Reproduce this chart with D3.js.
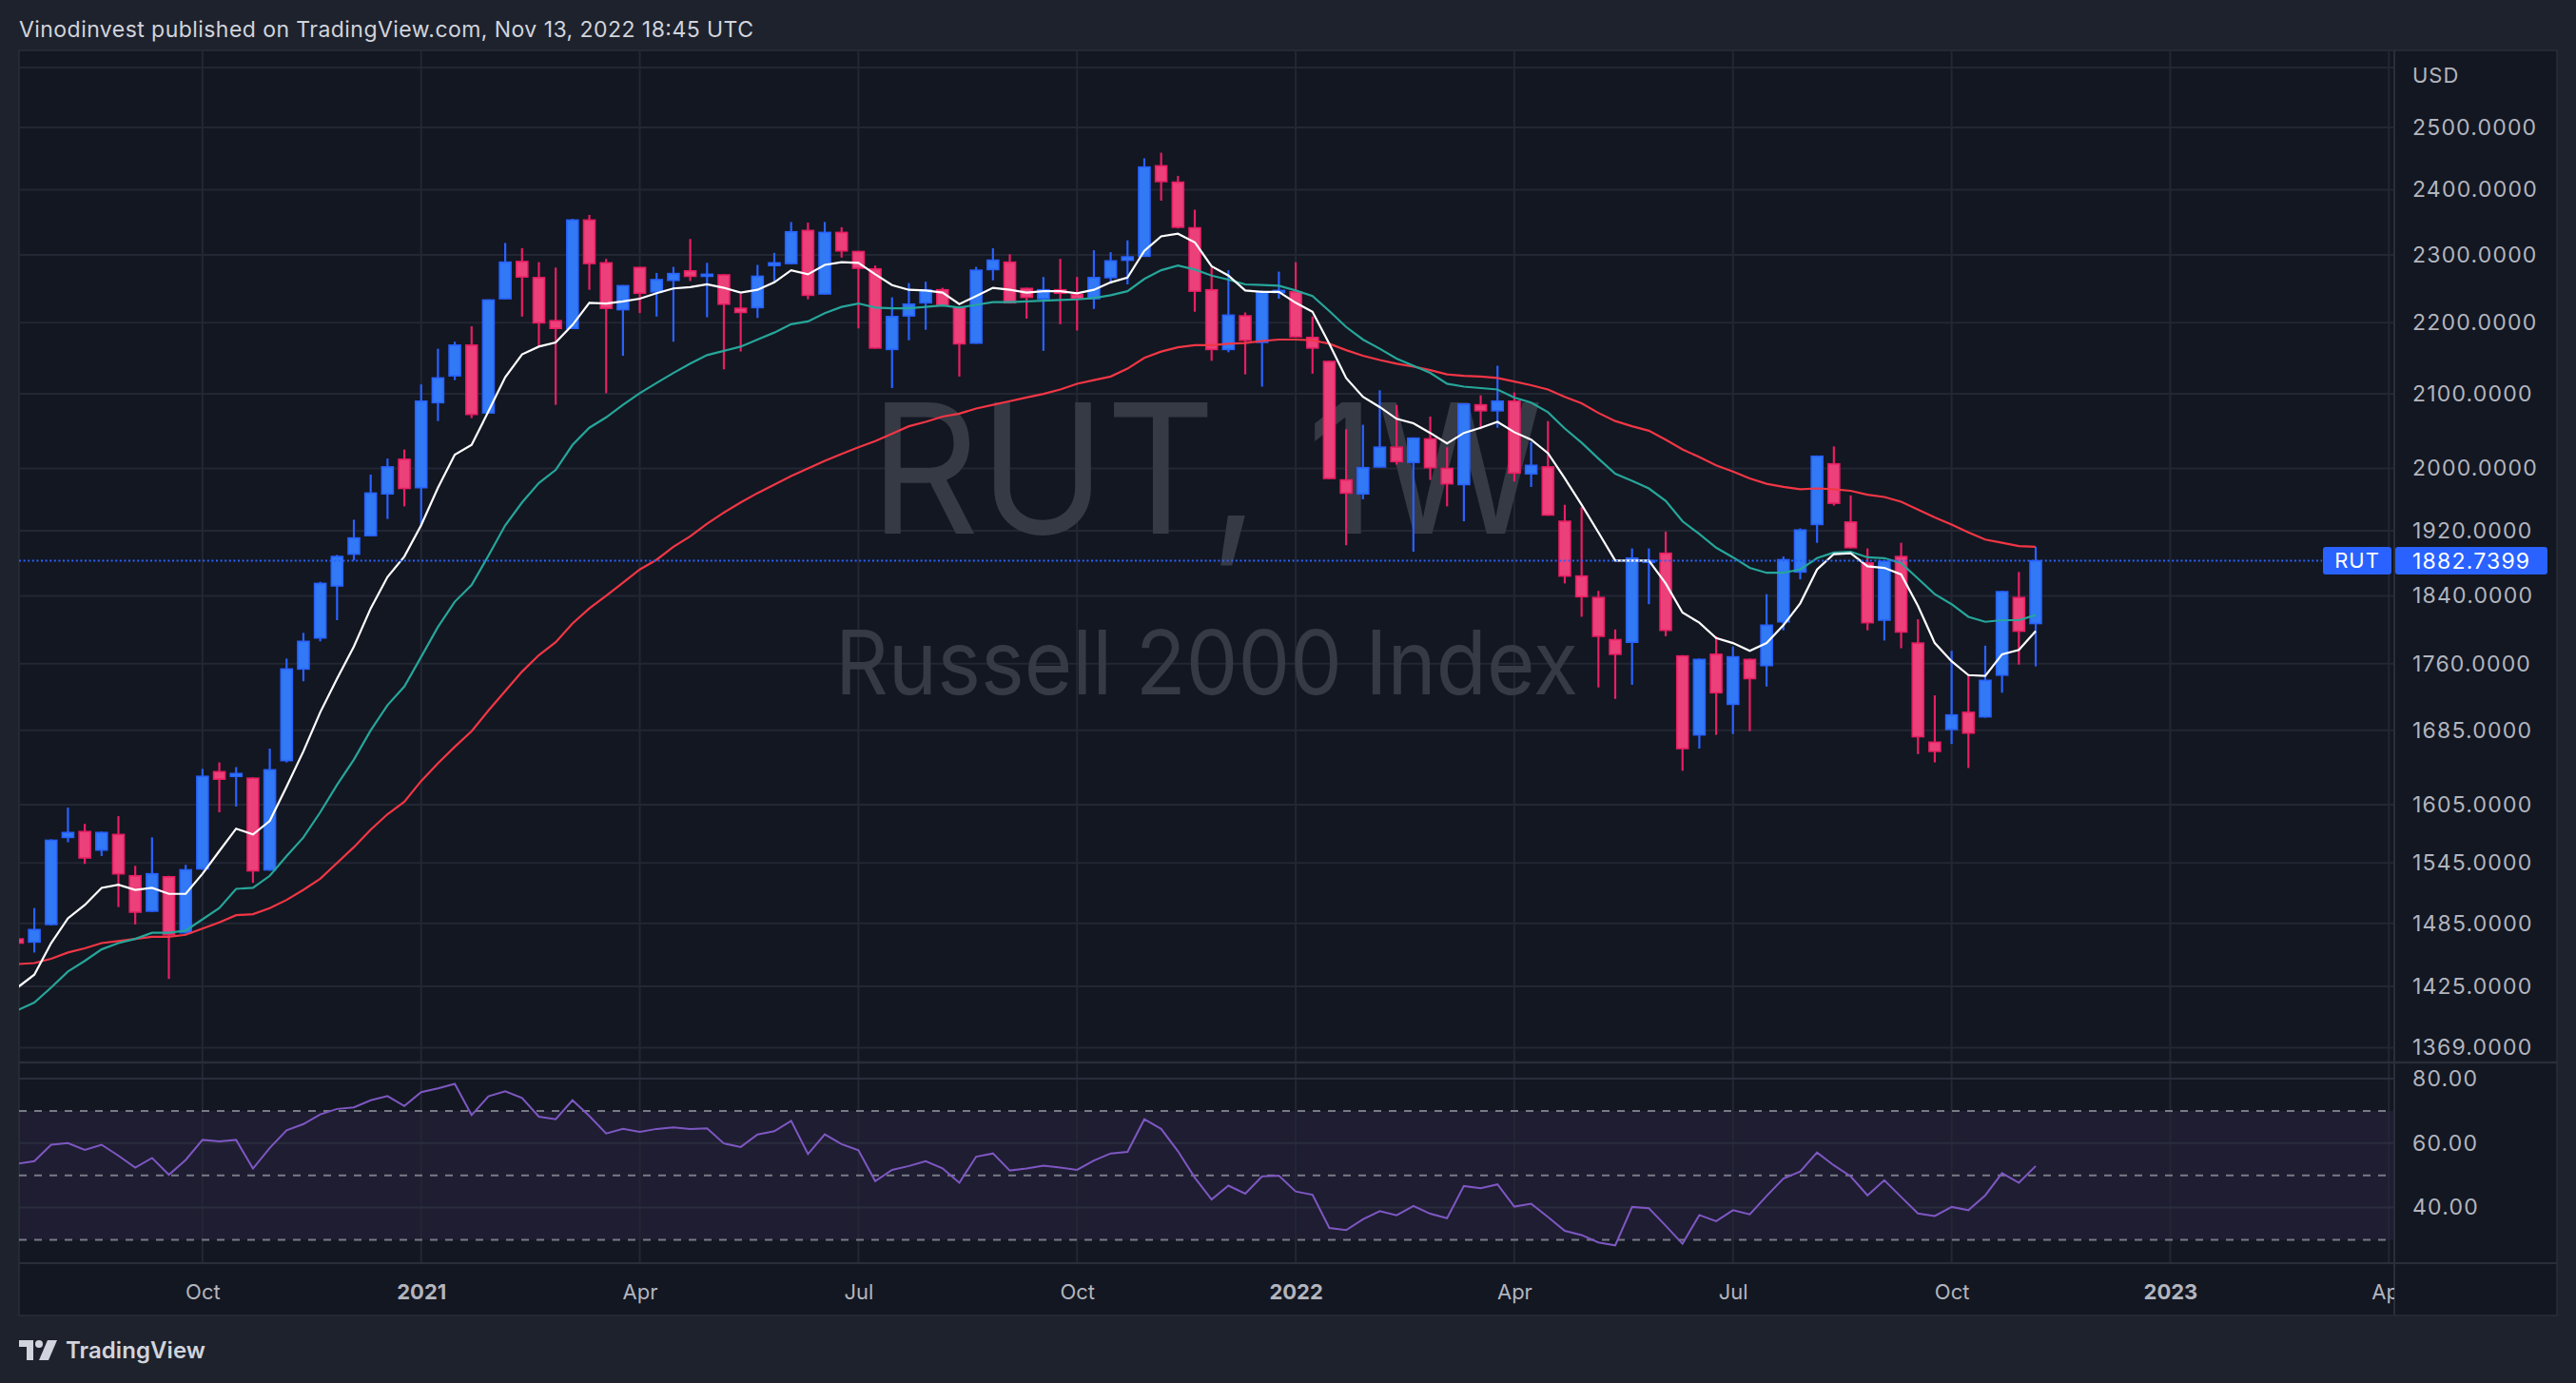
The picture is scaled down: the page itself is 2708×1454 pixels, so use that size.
<!DOCTYPE html>
<html><head><meta charset="utf-8">
<script src="https://cdn.jsdelivr.net/npm/d3@7"></script>
<style>html,body{margin:0;padding:0;background:#1e222d;overflow:hidden}text{font-family:Inter,"Noto Sans",sans-serif}</style>
</head><body><svg id="c" width="2708" height="1454"></svg>
<script>
// ---------------- DATA (weekly bars, RUT, from week of 2020-07-20) ----------------
const firstWeek = "2020-07-20";
const lastWeek = "2022-11-07";
const opens = [1470,1467,1484,1571,1577,1558,1574,1532,1497,1531,
1476,1539,1640,1635,1633,1538,1652,1754,1790,1852,
1891,1914,1967,2012,1975,2088,2125,2168,2074,2235,
2290,2266,2203,2192,2353,2288,2219,2281,2245,2262,
2276,2268,2270,2221,2222,2284,2287,2337,2242,2334,
2305,2279,2162,2210,2229,2248,2222,2171,2278,2289,
2250,2235,2248,2241,2235,2266,2292,2298,2438,2412,
2341,2248,2162,2210,2172,2244,2245,2179,2145,1985,
1967,2002,2028,2008,2039,2000,1979,2085,2077,2090,
1993,2002,1932,1864,1838,1788,1785,1881,1892,1769,
1680,1771,1714,1765,1758,1809,1869,1928,2006,1931,
1880,1811,1888,1784,1672,1686,1705,1700,1747,1838,
1807];
const highs = [1478,1500,1569,1602,1585,1577,1593,1542,1571,1532,
1543,1643,1650,1645,1634,1665,1766,1796,1857,1890,
1934,1992,2013,2025,2113,2163,2173,2195,2234,2318,
2310,2289,2281,2355,2361,2294,2255,2282,2273,2282,
2324,2288,2271,2242,2285,2303,2350,2349,2350,2342,
2306,2284,2237,2258,2260,2251,2223,2282,2310,2301,
2251,2267,2294,2267,2307,2304,2322,2450,2459,2422,
2369,2281,2277,2215,2247,2275,2289,2209,2146,2052,
2058,2105,2085,2041,2069,2028,2087,2098,2139,2102,
2035,2063,1953,1950,1846,1800,1898,1898,1919,1770,
1766,1792,1780,1766,1842,1888,1923,2017,2029,1965,
1898,1883,1905,1812,1724,1775,1748,1781,1846,1869,
1900];
const lows = [1458,1457,1483,1566,1544,1552,1501,1484,1496,1432,
1475,1538,1597,1603,1525,1537,1650,1740,1786,1811,
1883,1913,1935,1951,1927,2063,2119,2067,2073,2234,
2209,2166,2085,2191,2248,2101,2153,2214,2209,2173,
2261,2208,2134,2159,2207,2259,2286,2234,2241,2296,
2192,2163,2108,2175,2190,2224,2124,2170,2262,2228,
2206,2160,2198,2189,2220,2257,2256,2297,2383,2340,
2216,2146,2158,2127,2110,2235,2179,2128,1986,1902,
1960,2001,2005,1894,1985,1951,1932,2052,2054,1983,
1976,1939,1855,1815,1733,1720,1736,1830,1792,1641,
1665,1680,1681,1684,1734,1799,1860,1905,1952,1898,
1799,1787,1778,1659,1650,1670,1644,1699,1727,1759,
1757];
const closes = [1466,1479,1568,1576,1550,1576,1534,1496,1534,1474,
1538,1635,1632,1638,1537,1642,1754,1786,1855,1888,
1911,1968,2002,1974,2090,2122,2168,2072,2233,2289,
2267,2200,2192,2353,2287,2221,2254,2243,2263,2272,
2268,2271,2227,2215,2268,2288,2335,2240,2334,2306,
2280,2164,2209,2227,2248,2225,2170,2277,2292,2229,
2237,2248,2243,2235,2266,2291,2297,2436,2413,2342,
2246,2162,2211,2175,2244,2247,2180,2164,1987,1968,
2001,2028,2009,2040,2001,1980,2086,2077,2090,1994,
2004,1940,1864,1839,1792,1771,1886,1883,1799,1665,
1765,1727,1768,1743,1805,1884,1921,2016,1955,1899,
1808,1882,1797,1678,1662,1702,1682,1741,1845,1798,
1882.74];
// moving averages as drawn (white / teal / red)
const maFast = [1424,1436,1466,1490,1503,1520,1523,1518,1520,1514,
1514,1534,1557,1580,1574,1588,1624,1662,1705,1743,
1780,1825,1863,1888,1927,1975,2018,2031,2076,2123,
2155,2166,2172,2197,2229,2228,2231,2235,2243,2250,
2252,2256,2251,2244,2248,2259,2277,2271,2285,2289,
2288,2271,2255,2248,2247,2244,2227,2239,2251,2248,
2244,2246,2246,2243,2248,2259,2266,2306,2328,2332,
2319,2283,2269,2247,2245,2245,2229,2216,2170,2122,
2096,2082,2066,2060,2047,2033,2047,2054,2062,2048,
2038,2020,1987,1953,1918,1883,1883,1883,1855,1820,
1808,1790,1784,1775,1784,1805,1831,1872,1891,1892,
1876,1874,1866,1828,1784,1763,1747,1746,1771,1776,
1798];
const maMid = [1403,1410,1424,1439,1449,1460,1466,1470,1476,1476,
1478,1489,1500,1519,1520,1532,1552,1571,1597,1626,
1653,1685,1713,1734,1768,1803,1833,1853,1889,1927,
1956,1981,1998,2031,2054,2068,2085,2101,2115,2129,
2142,2154,2160,2166,2176,2186,2198,2202,2214,2223,
2228,2222,2221,2221,2223,2225,2222,2226,2230,2230,
2231,2232,2233,2234,2236,2240,2246,2264,2277,2284,
2278,2269,2263,2256,2255,2254,2247,2239,2217,2194,
2176,2163,2149,2139,2129,2114,2110,2108,2106,2095,
2088,2075,2053,2034,2013,1993,1984,1974,1958,1932,
1916,1899,1887,1874,1868,1868,1872,1886,1893,1894,
1887,1886,1880,1861,1842,1830,1815,1809,1811,1811,
1817];
const maSlow = [1446,1447,1451,1457,1461,1466,1468,1470,1472,1472,
1474,1480,1486,1493,1494,1500,1508,1518,1529,1545,
1561,1579,1595,1608,1630,1649,1667,1684,1707,1729,
1751,1770,1785,1807,1825,1840,1856,1872,1884,1900,
1913,1929,1943,1956,1968,1979,1990,2000,2010,2019,
2028,2036,2046,2056,2062,2069,2073,2080,2085,2090,
2095,2100,2106,2114,2119,2124,2135,2150,2159,2165,
2168,2168,2170,2171,2174,2176,2176,2175,2170,2161,
2153,2147,2142,2138,2133,2127,2125,2124,2122,2117,
2112,2106,2096,2087,2074,2063,2056,2050,2038,2025,
2015,2004,1996,1987,1980,1976,1973,1974,1973,1971,
1966,1963,1957,1947,1937,1928,1918,1909,1905,1901,
1900];
const rsi = [53.6,54.4,59.5,60.0,57.9,59.5,56.1,52.4,55.4,50.2,
54.8,61.0,60.5,61.0,52.1,58.5,64.0,65.9,68.9,70.6,
71.1,73.3,74.6,71.5,75.8,77.0,78.4,68.7,74.5,76.1,
74.0,68.2,67.4,73.3,68.4,63.0,64.4,63.5,64.4,64.9,
64.4,64.6,59.9,58.8,62.7,63.7,66.9,56.6,62.7,59.7,
57.8,48.2,51.7,52.9,54.4,52.2,47.7,55.8,56.8,51.5,
52.1,53.0,52.4,51.7,54.6,56.8,57.3,67.4,64.4,57.5,
49.3,42.5,46.8,44.3,49.7,49.9,45.0,44.0,33.7,33.0,
36.4,38.9,37.6,40.5,38.1,36.7,46.7,46.0,47.2,40.3,
41.2,37.1,32.8,31.5,29.2,28.3,40.2,39.8,34.4,28.8,
37.7,35.8,39.2,37.9,43.6,49.0,51.2,57.1,53.1,49.7,
43.8,48.5,43.3,38.2,37.4,40.2,39.2,43.8,50.7,47.7,
52.9];
const lastPrice = 1882.7399;
const priceTicks = [2500,2400,2300,2200,2100,2000,1920,1840,1760,1685,1605,1545,1485,1425,1369];
const priceGrid = [2600].concat(priceTicks);
const rsiTicks = [80,60,40];
const rsiGrid = [80,60,40];
const rsiBands = [70,50,30];
const timeTickDates = ["2020-10-05","2021-01-04","2021-04-05","2021-07-05","2021-10-04","2022-01-03","2022-04-04","2022-07-04","2022-10-03","2023-01-02","2023-04-03"];
const timeTickLabels = ["Oct","2021","Apr","Jul","Oct","2022","Apr","Jul","Oct","2023","Apr"];
const titleText = "Vinodinvest published on TradingView.com, Nov 13, 2022 18:45 UTC";

// ---------------- LAYOUT ----------------
const W=2708,H=1454, L=20, R=2517, AX=2688, T=53, MB=1116, RT=1118, RB=1328, TB=1383;
const UP_F="#3179f5", UP_S="#2962ff", DN_F="#ec407a", DN_S="#e91e63";
const GRID="#232733";
const parse = d3.utcParse("%Y-%m-%d");
const dates = d3.utcMonday.range(parse(firstWeek), d3.utcDay.offset(parse(lastWeek),1));
const data = dates.map((d,i)=>({d,o:opens[i],h:highs[i],l:lows[i],c:closes[i]}));

const x = d3.scaleUtc().domain([parse(firstWeek), parse(lastWeek)]).range([18.4, 2140]);
const y = d3.scaleLog().domain([1369,2500]).range([1101.5,134]);
const ry = d3.scaleLinear().domain([30,80]).range([1303.5,1134]);

const svg = d3.select("#c");
svg.append("rect").attr("width",W).attr("height",H).attr("fill","#1e222d");
svg.append("rect").attr("x",L).attr("y",T).attr("width",AX-L).attr("height",TB-T).attr("fill","#131722").attr("stroke","#2a2e39").attr("stroke-width",1.5);

const defs = svg.append("defs");
defs.append("clipPath").attr("id","cm").append("rect").attr("x",L).attr("y",T).attr("width",R-L).attr("height",MB-T);
defs.append("clipPath").attr("id","cr").append("rect").attr("x",L).attr("y",RT).attr("width",R-L).attr("height",RB-RT);
defs.append("clipPath").attr("id","ct").append("rect").attr("x",L).attr("y",RB).attr("width",R-L).attr("height",TB-RB);

// title
svg.append("text").attr("x",20).attr("y",39).attr("fill","#d1d4dc").attr("font-size",23).attr("textLength",772).text(titleText);

// ---------------- MAIN PANE ----------------
const gm = svg.append("g").attr("clip-path","url(#cm)");
const tDates = timeTickDates.map(parse);
gm.selectAll("line.vg").data(tDates).join("line").attr("x1",d=>x(d)).attr("x2",d=>x(d)).attr("y1",T).attr("y2",MB).attr("stroke",GRID).attr("stroke-width",2);
gm.selectAll("line.hg").data(priceGrid).join("line").attr("x1",L).attr("x2",R).attr("y1",d=>y(d)).attr("y2",d=>y(d)).attr("stroke",GRID).attr("stroke-width",2);

// watermark
const cx=(L+R)/2;
gm.append("text").attr("x",cx).attr("y",561).attr("text-anchor","middle").attr("font-size",190).attr("fill","#363a45").attr("textLength",708).attr("lengthAdjust","spacingAndGlyphs").text("RUT, 1W");
gm.append("text").attr("x",cx).attr("y",730).attr("text-anchor","middle").attr("font-size",94).attr("fill","#363a45").attr("textLength",781).attr("lengthAdjust","spacingAndGlyphs").text("Russell 2000 Index");

// candles
const cg = gm.selectAll("g.cd").data(data).join("g");
cg.append("line").attr("x1",d=>x(d.d)).attr("x2",d=>x(d.d)).attr("y1",d=>y(d.h)).attr("y2",d=>y(d.l))
  .attr("stroke",d=>d.c>=d.o?UP_S:DN_S).attr("stroke-width",2.2);
cg.append("rect").attr("x",d=>x(d.d)-6).attr("width",12)
  .attr("y",d=>y(Math.max(d.o,d.c))).attr("height",d=>Math.max(1.5,Math.abs(y(d.o)-y(d.c))))
  .attr("fill",d=>d.c>=d.o?UP_F:DN_F).attr("stroke",d=>d.c>=d.o?UP_S:DN_S).attr("stroke-width",1.6);

// moving averages
const line = d3.line().x((v,i)=>x(dates[i])).y(v=>y(v));
gm.append("path").datum(maSlow).attr("d",line).attr("fill","none").attr("stroke","#f23645").attr("stroke-width",2.2);
gm.append("path").datum(maMid).attr("d",line).attr("fill","none").attr("stroke","#26a69a").attr("stroke-width",2.2);
gm.append("path").datum(maFast).attr("d",line).attr("fill","none").attr("stroke","#ffffff").attr("stroke-width",2.2);

// last price line
svg.append("line").attr("x1",L).attr("x2",2441).attr("y1",y(lastPrice)).attr("y2",y(lastPrice)).attr("stroke","#2962ff").attr("stroke-width",2).attr("stroke-dasharray","2,2.6");

// ---------------- RSI PANE ----------------
const gr = svg.append("g").attr("clip-path","url(#cr)");
gr.append("rect").attr("x",L).attr("width",R-L).attr("y",ry(70)).attr("height",ry(30)-ry(70)).attr("fill","rgba(126,87,194,0.10)");
gr.selectAll("line.vg").data(tDates).join("line").attr("x1",d=>x(d)).attr("x2",d=>x(d)).attr("y1",RT).attr("y2",RB).attr("stroke",GRID).attr("stroke-width",2);
gr.selectAll("line.hg").data(rsiGrid).join("line").attr("x1",L).attr("x2",R).attr("y1",d=>ry(d)).attr("y2",d=>ry(d)).attr("stroke","#2a2d3c").attr("stroke-width",2);
gr.selectAll("line.bd").data(rsiBands).join("line").attr("x1",L).attr("x2",R).attr("y1",d=>ry(d)).attr("y2",d=>ry(d)).attr("stroke","#787b86").attr("stroke-width",2).attr("stroke-dasharray","8,8");
gr.append("path").datum(rsi).attr("d",d3.line().x((v,i)=>x(dates[i])).y(v=>ry(v))).attr("fill","none").attr("stroke","#7e57c2").attr("stroke-width",2);

// ---------------- SEPARATORS ----------------
svg.append("line").attr("x1",R).attr("x2",R).attr("y1",T).attr("y2",TB).attr("stroke","#2a2e39").attr("stroke-width",2);
svg.append("line").attr("x1",L).attr("x2",AX).attr("y1",MB+1).attr("y2",MB+1).attr("stroke","#2a2e39").attr("stroke-width",2.5);
svg.append("line").attr("x1",L).attr("x2",AX).attr("y1",RB).attr("y2",RB).attr("stroke","#2a2e39").attr("stroke-width",2);

// ---------------- AXES ----------------
const pa = svg.append("g").attr("transform",`translate(${R},0)`)
  .call(d3.axisRight(y).tickValues(priceTicks).tickFormat(d=>d.toFixed(4)).tickSize(0).tickPadding(19));
pa.select(".domain").remove();
pa.selectAll("text").attr("fill","#b2b5be").attr("font-size",23).attr("letter-spacing","1.2px").attr("font-family","Inter, 'Noto Sans', sans-serif");
svg.append("text").attr("x",R+19).attr("y",79).attr("dy","0.35em").attr("fill","#b2b5be").attr("font-size",22).attr("letter-spacing","1px").text("USD");

const ra = svg.append("g").attr("transform",`translate(${R},0)`)
  .call(d3.axisRight(ry).tickValues(rsiTicks).tickFormat(d=>d.toFixed(2)).tickSize(0).tickPadding(19));
ra.select(".domain").remove();
ra.selectAll("text").attr("fill","#b2b5be").attr("font-size",23).attr("letter-spacing","1.2px").attr("font-family","Inter, 'Noto Sans', sans-serif");

const ta = svg.append("g").attr("clip-path","url(#ct)").append("g").attr("transform",`translate(0,${RB})`)
  .call(d3.axisBottom(x).tickValues(tDates).tickFormat((d,i)=>timeTickLabels[i]).tickSize(0));
ta.select(".domain").remove();
ta.selectAll("text").attr("y",30).attr("dy","0.35em").attr("fill","#b2b5be").attr("font-size",22)
  .attr("font-family","Inter, 'Noto Sans', sans-serif")
  .attr("font-weight",(d,i)=>/^\d/.test(timeTickLabels[i])?700:400);

// last price labels
const ly = y(lastPrice);
svg.append("rect").attr("x",2442).attr("y",ly-14.5).attr("width",72).attr("height",29).attr("rx",3).attr("fill","#2962ff");
svg.append("text").attr("x",2478).attr("y",ly).attr("dy","0.35em").attr("text-anchor","middle").attr("fill","#ffffff").attr("font-size",22).attr("letter-spacing","1px").text("RUT");
svg.append("rect").attr("x",R+1).attr("y",ly-14.5).attr("width",160).attr("height",29).attr("rx",3).attr("fill","#2962ff");
svg.append("text").attr("x",R+19).attr("y",ly).attr("dy","0.35em").attr("fill","#ffffff").attr("font-size",23).attr("letter-spacing","1.2px").text(lastPrice.toFixed(4));

// ---------------- FOOTER ----------------
const logo = svg.append("g").attr("transform","translate(20,1409)").attr("fill","#d1d4dc");
logo.append("path").attr("d","M0 0 H15 V21 H8 V7 H0 Z");
logo.append("circle").attr("cx",21).attr("cy",4).attr("r",4);
logo.append("path").attr("d","M30 0 H40 L31 21 H21 Z");
svg.append("text").attr("x",69).attr("y",1420).attr("dy","0.35em").attr("fill","#d1d4dc").attr("font-size",24).attr("font-weight",600).attr("textLength",147).text("TradingView");
</script></body></html>
